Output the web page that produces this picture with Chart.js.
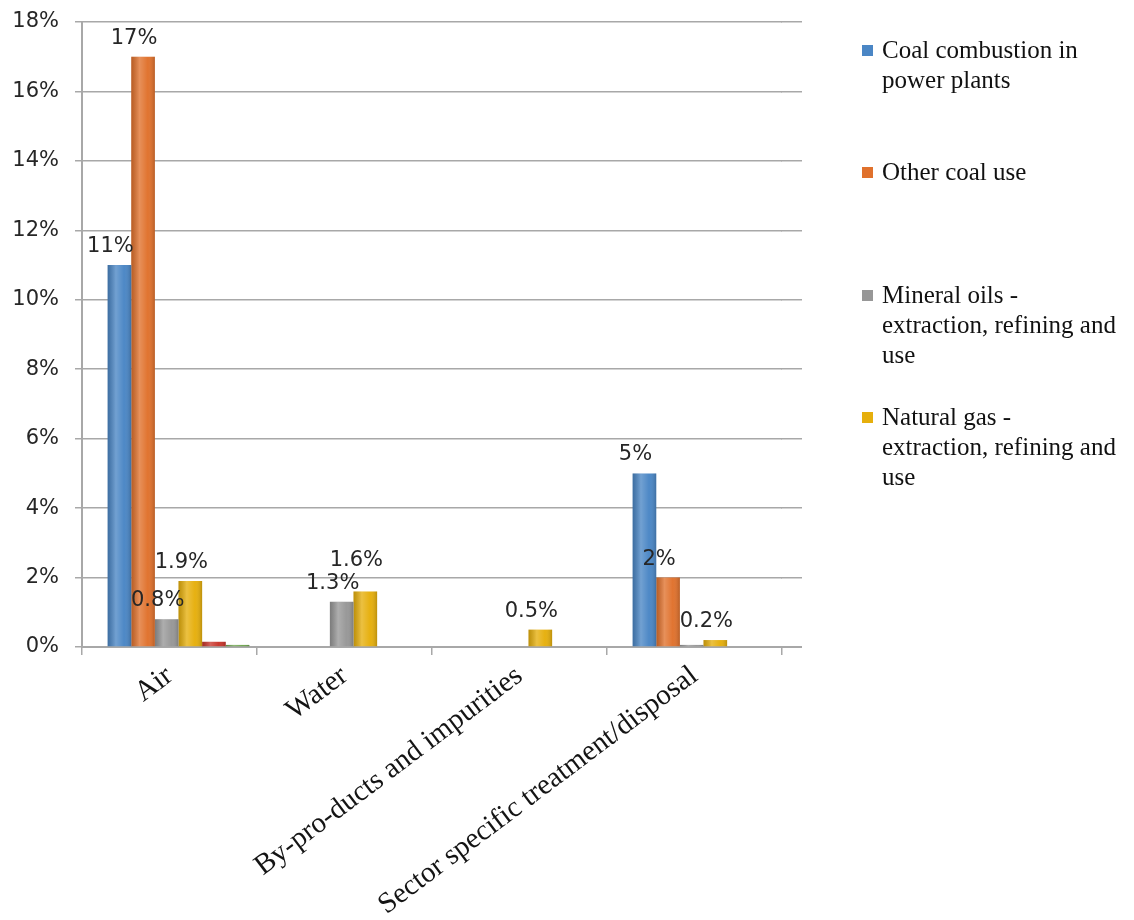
<!DOCTYPE html>
<html>
<head>
<meta charset="utf-8">
<script src="https://cdn.jsdelivr.net/npm/chart.js@4.4.1/dist/chart.umd.min.js"></script>
<style>
  html, body { margin: 0; padding: 0; background: #ffffff; }
  #wrap { position: relative; width: 1134px; height: 920px; overflow: hidden; }
  #chart { position: absolute; left: 0; top: 0; }
  #legend {
    position: absolute; left: 0; top: 0; width: 1134px; height: 920px; pointer-events: none;
    font-family: "Liberation Serif", "Times New Roman", serif; font-size: 25px; line-height: 30px; color: #111;
  }
  .item { position: absolute; left: 862px; display: flex; align-items: flex-start; }
  .swatch { width: 11px; height: 11px; margin-top: 10px; margin-right: 9px; flex: none; }
  .text { width: 237px; }
</style>
</head>
<body>
<div id="wrap">
  <canvas id="chart" width="1134" height="920"></canvas>
  <div id="legend"></div>
</div>
<script>
// Emission shares by release route (percent)
const categories = ['Air', 'Water', 'By-pro-ducts and impurities', 'Sector specific treatment/disposal'];

const seriesNames = [
  'Coal combustion in power plants',
  'Other coal use',
  'Mineral oils - extraction, refining and use',
  'Natural gas - extraction, refining and use',
  'Series 5',
  'Series 6'
];

const coalPowerPlants = [11, null, null, 5];
const otherCoalUse    = [17, null, null, 2];
const mineralOils     = [0.8, 1.3, null, 0.06];
const naturalGas      = [1.9, 1.6, 0.5, 0.2];
const series5Values   = [0.15, null, null, null];
const series6Values   = [0.06, null, null, null];

// which points carry a value label
const coalPowerLabels   = [true, false, false, true];
const otherCoalLabels   = [true, false, false, true];
const mineralOilsLabels = [true, true, false, false];
const naturalGasLabels  = [true, true, true, true];

const yTicks = [0, 2, 4, 6, 8, 10, 12, 14, 16, 18];

const seriesColors = ['#4A86C5', '#E0712C', '#979797', '#E6AF0C', '#C8352B', '#6FA64F'];
const legendTops = [35, 157, 280, 402];   // legend rows shown for the first four series
const gridColor = '#a8a8a8';
const barNudge = 9;        // bars sit a little right of each category centre
const gridOverhang = 20;   // horizontal rules run slightly past the last category

// bars and their labels drawn with a small rightward nudge
const barOffset = {
  id: 'barOffset',
  beforeDatasetsDraw(chart) { chart.ctx.save(); chart.ctx.translate(barNudge, 0); },
  afterDatasetsDraw(chart) { chart.ctx.restore(); }
};

// light cylindrical shading laid over each bar
const barShading = {
  id: 'barShading',
  afterDatasetDraw(chart, args) {
    const ctx = chart.ctx;
    ctx.save();
    args.meta.data.forEach((bar) => {
      const p = bar.getProps(['x', 'y', 'base', 'width'], true);
      if (p.y == null || isNaN(p.y) || Math.abs(p.base - p.y) < 0.5) return;
      const l = p.x - p.width / 2, r = p.x + p.width / 2;
      const g = ctx.createLinearGradient(l, 0, r, 0);
      g.addColorStop(0, 'rgba(0,0,0,0.18)');
      g.addColorStop(0.35, 'rgba(255,255,255,0.22)');
      g.addColorStop(0.7, 'rgba(255,255,255,0.02)');
      g.addColorStop(1, 'rgba(0,0,0,0.18)');
      ctx.fillStyle = g;
      ctx.fillRect(l, p.y, p.width, p.base - p.y);
    });
    ctx.restore();
  }
};

// percent labels above the bars, nudged upward when two would collide
const valueLabels = {
  id: 'valueLabels',
  afterDatasetsDraw(chart) {
    const ctx = chart.ctx;
    ctx.save();
    ctx.font = '21px "DejaVu Sans", sans-serif';
    ctx.fillStyle = '#262626';
    ctx.textAlign = 'center';
    ctx.textBaseline = 'bottom';
    const h = 21;
    const placed = [];
    chart.data.datasets.forEach((ds, di) => {
      if (!ds.showLabel) return;
      const meta = chart.getDatasetMeta(di);
      meta.data.forEach((bar, i) => {
        if (!ds.showLabel[i] || ds.data[i] == null) return;
        const text = ds.data[i] + '%';
        const w = ctx.measureText(text).width;
        const x = bar.x;
        let bottom = bar.y - 8;
        let moved = true;
        while (moved) {
          moved = false;
          for (const b of placed) {
            const overlapX = x - w / 2 < b.r && x + w / 2 > b.l;
            const overlapY = bottom - h < b.b && bottom > b.t;
            if (overlapX && overlapY) { bottom = b.t - 2; moved = true; }
          }
        }
        placed.push({ l: x - w / 2, r: x + w / 2, t: bottom - h, b: bottom });
        ctx.fillText(text, x, bottom);
      });
    });
    ctx.restore();
  }
};

// short extension of the horizontal rules and the base line past the plot edge
const ruleOverhang = {
  id: 'ruleOverhang',
  beforeDatasetsDraw(chart) {
    const ctx = chart.ctx, y = chart.scales.y, right = chart.chartArea.right;
    ctx.save();
    ctx.strokeStyle = gridColor;
    yTicks.forEach((v) => {
      const lw = v === 0 ? 2 : 1.5;
      const py = Math.round(y.getPixelForValue(v) - lw / 2) + lw / 2;
      ctx.lineWidth = lw;
      ctx.beginPath();
      ctx.moveTo(right - 1, py);
      ctx.lineTo(right + gridOverhang, py);
      ctx.stroke();
    });
    ctx.restore();
  }
};

const valueLists = [coalPowerPlants, otherCoalUse, mineralOils, naturalGas, series5Values, series6Values];
const labelLists = [coalPowerLabels, otherCoalLabels, mineralOilsLabels, naturalGasLabels, null, null];

const datasets = valueLists.map((vals, k) => ({
  label: seriesNames[k],
  data: vals,
  backgroundColor: seriesColors[k],
  borderWidth: 0,
  categoryPercentage: 0.81,
  barPercentage: 1.0,
  showLabel: labelLists[k]
}));

const chart = new Chart(document.getElementById('chart'), {
  type: 'bar',
  data: { labels: categories, datasets: datasets },
  options: {
    responsive: false,
    animation: false,
    devicePixelRatio: 1,
    layout: { padding: { top: 22, right: 352, left: 0, bottom: 0 } },
    plugins: { legend: { display: false }, tooltip: { enabled: false } },
    scales: {
      x: {
        type: 'category',
        offset: true,
        grid: { offset: true, drawOnChartArea: false, drawTicks: true, tickLength: 8, color: gridColor, lineWidth: 1.5 },
        border: { color: gridColor, width: 2 },
        ticks: {
          autoSkip: false, minRotation: 37, maxRotation: 37, padding: 4,
          color: '#141414', font: { family: '"Liberation Serif", "Times New Roman", serif', size: 29 }
        },
        afterFit(scale) { scale.height = 273; }
      },
      y: {
        min: 0, max: 18,
        afterBuildTicks(scale) { scale.ticks = yTicks.map(v => ({ value: v })); },
        grid: { color: gridColor, lineWidth: 1.5, tickLength: 7 },
        border: { color: gridColor, width: 2 },
        ticks: {
          padding: 16, color: '#262626',
          font: { family: '"DejaVu Sans", sans-serif', size: 21 },
          callback: (v) => v + '%'
        },
        afterFit(scale) {
          scale.width = 82;
          scale.paddingTop = 12;
          scale.paddingBottom = 12;
        }
      }
    }
  },
  plugins: [ruleOverhang, barOffset, barShading, valueLabels]
});

// legend for the four named series, built from the chart's own datasets
const legendEl = document.getElementById('legend');
chart.data.datasets.slice(0, 4).forEach((ds, k) => {
  const item = document.createElement('div');
  item.className = 'item';
  item.style.top = legendTops[k] + 'px';
  const sw = document.createElement('span');
  sw.className = 'swatch';
  sw.style.background = ds.backgroundColor;
  const tx = document.createElement('span');
  tx.className = 'text';
  tx.textContent = ds.label;
  item.appendChild(sw);
  item.appendChild(tx);
  legendEl.appendChild(item);
});
</script>
</body>
</html>
